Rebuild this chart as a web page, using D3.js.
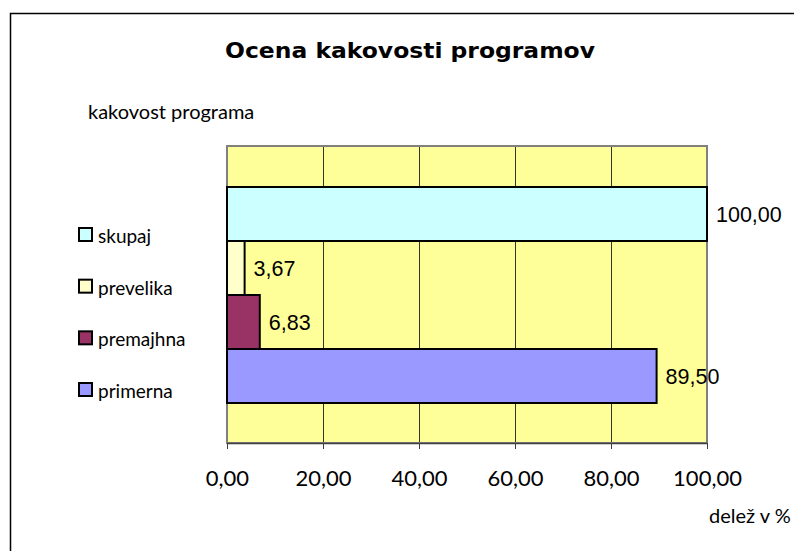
<!DOCTYPE html>
<html>
<head>
<meta charset="utf-8">
<script src="https://cdn.jsdelivr.net/npm/d3@7"></script>
<style>
  body { margin: 0; background: #fff; }
  svg { display: block; }
  .lab { font-family: "Lato", "DejaVu Sans", sans-serif; }
  .val { font-family: "Liberation Sans", Arial, sans-serif; }
  .title { font-family: "DejaVu Sans", sans-serif; }
</style>
</head>
<body>
<div id="chart"></div>
<script>
// series (drawn top to bottom) and their values
const series = ['skupaj', 'prevelika', 'premajhna', 'primerna'];
const values = [100.00, 3.67, 6.83, 89.50];
const colors = ['#CCFFFF', '#FFFFCC', '#993366', '#9999FF'];
const ticks = [0, 20, 40, 60, 80, 100];

const width = 794;
const height = 551;
const plot = { left: 227, right: 707, top: 146, bottom: 443 };

const fmt = (d) => d.toFixed(2).replace('.', ',');

const svg = d3.select('#chart').append('svg')
  .attr('width', width)
  .attr('height', height);

// outer chart frame
svg.append('rect')
  .attr('x', 10.5).attr('y', 13.5)
  .attr('width', width + 20).attr('height', height + 20)
  .attr('fill', '#fff').attr('stroke', '#000').attr('stroke-width', 1.5);

const xScale = d3.scaleLinear().domain([0, 100]).range([plot.left, plot.right]);
const yScale = d3.scaleBand().domain(series).range([187, 403]).padding(0);

// plot background
svg.append('rect')
  .attr('x', plot.left).attr('y', plot.top)
  .attr('width', plot.right - plot.left).attr('height', plot.bottom - plot.top)
  .attr('fill', '#FFFF99');

// gridlines
svg.append('g')
  .attr('transform', `translate(0, ${plot.bottom})`)
  .call(d3.axisBottom(xScale).tickValues(ticks).tickFormat('').tickSize(-(plot.bottom - plot.top)))
  .call((g) => g.select('.domain').remove())
  .call((g) => g.selectAll('line').attr('stroke', '#000').attr('stroke-width', 0.8));

// plot border
svg.append('rect')
  .attr('x', plot.left).attr('y', plot.top)
  .attr('width', plot.right - plot.left).attr('height', plot.bottom - plot.top)
  .attr('fill', 'none').attr('stroke', '#808080').attr('stroke-width', 2);

// x axis
const xAxis = svg.append('g')
  .attr('transform', `translate(0, ${plot.bottom})`)
  .call(d3.axisBottom(xScale).tickValues(ticks).tickFormat(fmt).tickSize(6).tickSizeOuter(0));
xAxis.select('.domain').attr('stroke', '#404040').attr('stroke-width', 1.5);
xAxis.selectAll('line').attr('stroke', '#404040');
xAxis.selectAll('text')
  .attr('class', 'lab')
  .attr('y', 27)
  .style('font-size', '22px')
  .attr('fill', '#000');

// bars
const bars = svg.append('g');
bars.selectAll('rect')
  .data(series)
  .join('rect')
  .attr('x', xScale(0))
  .attr('y', (d) => yScale(d))
  .attr('width', (d, i) => xScale(values[i]) - xScale(0))
  .attr('height', yScale.bandwidth())
  .attr('fill', (d, i) => colors[i])
  .attr('stroke', '#000')
  .attr('stroke-width', 2);

// value labels
bars.selectAll('text')
  .data(series)
  .join('text')
  .attr('class', 'val')
  .attr('x', (d, i) => xScale(values[i]) + 9)
  .attr('y', (d) => yScale(d) + yScale.bandwidth() / 2 + 8)
  .style('font-size', '21.5px')
  .text((d, i) => fmt(values[i]));

// legend
const legendY = d3.scalePoint().domain(series).range([235, 390]);
const legend = svg.append('g').selectAll('g')
  .data(series)
  .join('g')
  .attr('transform', (d) => `translate(79, ${legendY(d)})`);
legend.append('rect')
  .attr('x', 0).attr('y', -7)
  .attr('width', 13).attr('height', 13)
  .attr('fill', (d, i) => colors[i])
  .attr('stroke', '#000').attr('stroke-width', 2);
legend.append('text')
  .attr('class', 'lab')
  .attr('x', 19).attr('y', 8)
  .style('font-size', '19px')
  .text((d) => d);

// title and axis titles
svg.append('text')
  .attr('class', 'title')
  .attr('x', 225).attr('y', 58)
  .attr('textLength', 370)
  .attr('lengthAdjust', 'spacingAndGlyphs')
  .style('font-size', '22px').style('font-weight', 'bold')
  .text('Ocena kakovosti programov');

svg.append('text')
  .attr('class', 'lab')
  .attr('x', 88).attr('y', 119)
  .style('font-size', '20px')
  .text('kakovost programa');

svg.append('text')
  .attr('class', 'lab')
  .attr('x', 709).attr('y', 523)
  .style('font-size', '20px')
  .text('delež v %');
</script>
</body>
</html>
